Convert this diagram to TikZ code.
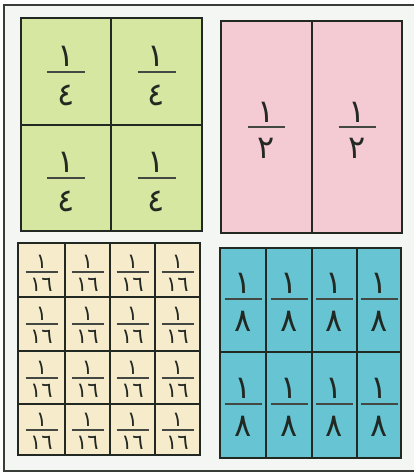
\documentclass[tikz,border=0pt]{standalone}
\usepackage{fontspec}
\newfontfamily\arabicfont[Script=Arabic]{DejaVu Sans}
\definecolor{panelbg}{HTML}{F4F6F3}
\definecolor{greenc}{HTML}{D6E7A1}
\definecolor{pinkc}{HTML}{F4CAD3}
\definecolor{beigec}{HTML}{F6EBCB}
\definecolor{bluec}{HTML}{66C4D3}
\definecolor{inkc}{HTML}{222822}
\begin{document}
\begin{tikzpicture}[x=1pt,y=-1pt,
  frameline/.style={draw=inkc!90, line width=2pt},
  cellline/.style={draw=inkc, line width=1.8pt},
  fracrule/.style={draw=inkc!85, line width=1.5pt},
  bignum/.style={font=\arabicfont\fontsize{32}{32}\selectfont, inner sep=0pt, anchor=base, text=inkc},
  smallnum/.style={font=\arabicfont\fontsize{21}{21}\selectfont, inner sep=0pt, anchor=base, text=inkc}]
\useasboundingbox (0,0) rectangle (414,474);
\fill[white] (0,0) rectangle (414,474);
\fill[panelbg] (4,5) rectangle (414,471);
\draw[frameline] (414,5) -- (4,5) -- (4,471) -- (414,471);

% green quarters
\fill[greenc] (21,18) rectangle (202,231);
\draw[cellline] (21,18) rectangle (202,231) (111,18) -- (111,231) (21,125) -- (202,125);
\foreach \cx/\cy [count=\k] in {66/72,156.5/72,66/178,156.5/178}{
  \node[bignum] (gn\k) at (\cx,\cy-6) {١};
  \draw[fracrule] (\cx-19,\cy) -- (\cx+19,\cy);
  \node[bignum] (gd\k) at (\cx,\cy+33) {٤};
}

% pink halves
\fill[pinkc] (221,21) rectangle (402,233);
\draw[cellline] (221,21) rectangle (402,233) (312,21) -- (312,233);
\foreach \cx/\cy [count=\k] in {266.5/127,357/127}{
  \node[bignum] (pn\k) at (\cx,\cy-5) {١};
  \draw[fracrule] (\cx-18.5,\cy) -- (\cx+18.5,\cy);
  \node[bignum] (pd\k) at (\cx,\cy+31) {٢};
}

% beige sixteenths
\fill[beigec] (18,243) rectangle (200,455);
\draw[cellline] (18,243) rectangle (200,455)
  (65,243) -- (65,455) (110,243) -- (110,455) (155,243) -- (155,455)
  (18,297) -- (200,297) (18,351) -- (200,351) (18,404) -- (200,404);
\foreach \cy [count=\r] in {272,324,378,430}{
  \foreach \cx [count=\c] in {41.5,87.5,132.5,177.5}{
    \node[smallnum] (bn\r\c) at (\cx,\cy-4) {١};
    \draw[fracrule] (\cx-16,\cy) -- (\cx+16,\cy);
    \node[smallnum] (bd\r\c) at (\cx,\cy+19) {١٦};
  }
}

% blue eighths
\fill[bluec] (220,248) rectangle (401,458);
\draw[cellline] (220,248) rectangle (401,458)
  (266,248) -- (266,458) (312,248) -- (312,458) (357,248) -- (357,458)
  (220,352) -- (401,352);
\foreach \cy [count=\r] in {299,404}{
  \foreach \cx [count=\c] in {243,289,334.5,379}{
    \node[bignum] (un\r\c) at (\cx,\cy-6) {١};
    \draw[fracrule] (\cx-18.5,\cy) -- (\cx+18.5,\cy);
    \node[bignum] (ud\r\c) at (\cx,\cy+32) {٨};
  }
}
\end{tikzpicture}
\end{document}
